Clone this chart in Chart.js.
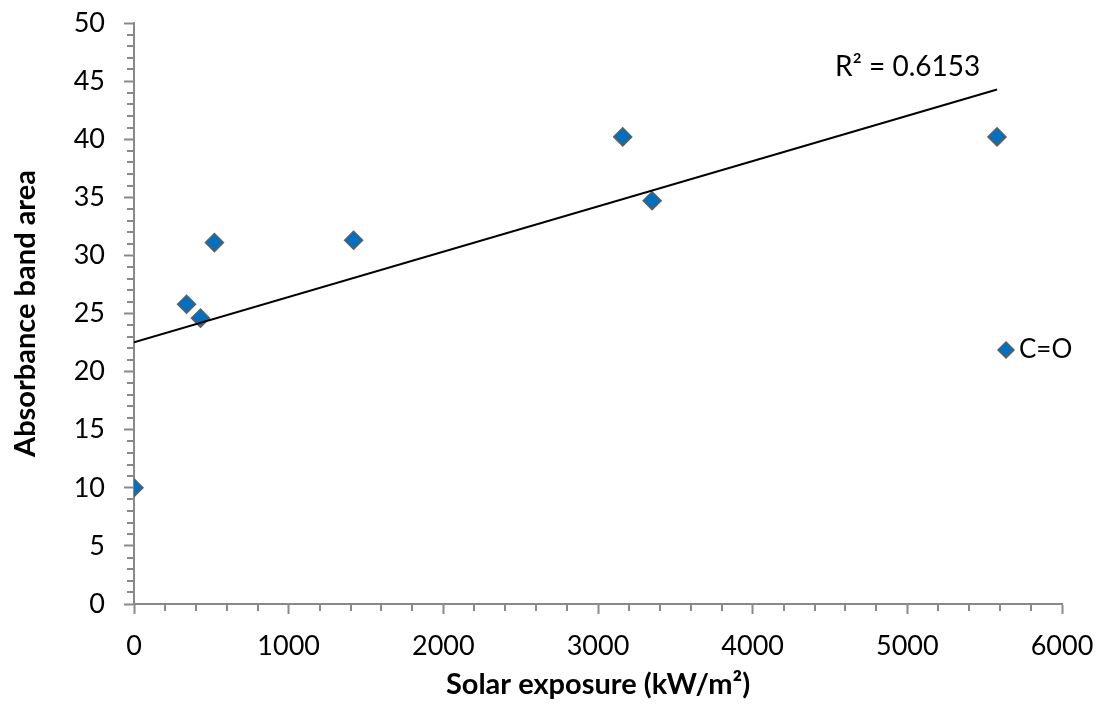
<!DOCTYPE html>
<html>
<head>
<meta charset="utf-8">
<script src="https://cdn.jsdelivr.net/npm/chart.js@4.4.1/dist/chart.umd.min.js"></script>
<style>
  html, body { margin: 0; padding: 0; background: #fff; }
  #wrap { width: 1108px; height: 704px; }
</style>
</head>
<body>
<div id="wrap"><canvas id="scatterChart"></canvas></div>
<script>
// Solar exposure (kW/m2) vs absorbance band area, C=O band
const exposure = [0, 340, 430, 520, 1420, 3160, 3350, 5580];
const bandArea = [10, 25.8, 24.6, 31.1, 31.3, 40.2, 34.7, 40.2];
const seriesName = "C=O";
const r2Label = "R² = 0.6153";

const xTicks = [0, 1000, 2000, 3000, 4000, 5000, 6000];
const yTicks = [0, 5, 10, 15, 20, 25, 30, 35, 40, 45, 50];

const axisGray = "#898989";
const pointBlue = "#0070C0";
const fontFamily = "Lato, 'Noto Sans', sans-serif";

// least squares trend line over the points (like the Excel linear trendline)
function linearFit(xs, ys) {
    const n = xs.length;
    const mx = xs.reduce((s, v) => s + v, 0) / n;
    const my = ys.reduce((s, v) => s + v, 0) / n;
    let sxy = 0, sxx = 0;
    xs.forEach((x, i) => {
        sxy += (x - mx) * (ys[i] - my);
        sxx += (x - mx) * (x - mx);
    });
    const slope = sxy / sxx;
    return { slope, intercept: my - slope * mx };
}

const fit = linearFit(exposure, bandArea);
const xMin = Math.min(...exposure);
const xMax = Math.max(...exposure);
const trendPoints = [xMin, xMax].map(x => ({ x, y: fit.intercept + fit.slope * x }));

const points = exposure.map((x, i) => ({ x, y: bandArea[i] }));

// minor tick marks + R² text + legend
const extrasPlugin = {
    id: "extras",
    afterDraw(chart) {
        const { ctx, scales, chartArea } = chart;
        const xs = scales.x, ys = scales.y;
        ctx.save();
        ctx.strokeStyle = axisGray;
        ctx.lineWidth = 2;
        ctx.beginPath();
        for (let v = 0; v <= 50; v++) {
            if (v % 5 === 0) continue;
            const py = Math.round(ys.getPixelForValue(v));
            ctx.moveTo(chartArea.left - 7, py);
            ctx.lineTo(chartArea.left, py);
        }
        for (let v = 0; v <= 6000; v += 200) {
            if (v % 1000 === 0) continue;
            const px = Math.round(xs.getPixelForValue(v));
            ctx.moveTo(px, chartArea.bottom);
            ctx.lineTo(px, chartArea.bottom + 7);
        }
        ctx.stroke();

        // R² label near the end of the trend line
        ctx.fillStyle = "#000";
        ctx.font = `28px ${fontFamily}`;
        ctx.textAlign = "left";
        ctx.textBaseline = "middle";
        ctx.fillText(r2Label, 835, 67);

        // legend
        const lx = 1006, ly = 350, r = 8;
        ctx.beginPath();
        ctx.moveTo(lx, ly - r);
        ctx.lineTo(lx + r, ly);
        ctx.lineTo(lx, ly + r);
        ctx.lineTo(lx - r, ly);
        ctx.closePath();
        ctx.fillStyle = pointBlue;
        ctx.fill();
        ctx.strokeStyle = "#5f5f5f";
        ctx.lineWidth = 1.5;
        ctx.stroke();
        ctx.fillStyle = "#000";
        ctx.font = `26px ${fontFamily}`;
        ctx.fillText(seriesName, 1019, ly);
        ctx.restore();
    }
};

const ctx = document.getElementById("scatterChart").getContext("2d");
new Chart(ctx, {
    type: "scatter",
    data: {
        datasets: [
            {
                type: "line",
                label: "Linear (" + seriesName + ")",
                data: trendPoints,
                borderColor: "#000",
                borderWidth: 2,
                pointRadius: 0,
                fill: false,
                order: 0
            },
            {
                label: seriesName,
                data: points,
                pointStyle: "rectRot",
                pointRadius: 9,
                pointBackgroundColor: pointBlue,
                pointBorderColor: "#5f5f5f",
                pointBorderWidth: 1.5,
                order: 1
            }
        ]
    },
    options: {
        responsive: true,
        maintainAspectRatio: false,
        animation: false,
        layout: { padding: { top: 23, right: 46, left: 0, bottom: 0 } },
        plugins: {
            legend: { display: false },
            tooltip: { enabled: false }
        },
        scales: {
            x: {
                type: "linear",
                min: 0,
                max: 6000,
                afterBuildTicks: scale => { scale.ticks = xTicks.map(v => ({ value: v })); },
                afterFit: scale => {
                    scale.height = 100;
                    scale.paddingLeft = 0;
                    scale.paddingRight = 0;
                },
                ticks: {
                    color: "#000",
                    font: { family: fontFamily, size: 27 },
                    padding: 16,
                    callback: v => String(v)
                },
                grid: { drawOnChartArea: false, tickLength: 10, tickColor: axisGray, tickWidth: 2 },
                border: { color: axisGray, width: 2 },
                title: {
                    display: true,
                    text: "Solar exposure (kW/m²)",
                    color: "#000",
                    font: { family: fontFamily, size: 29, weight: "bold" },
                    padding: { top: 0, bottom: 2 }
                }
            },
            y: {
                type: "linear",
                min: 0,
                max: 50,
                afterBuildTicks: scale => { scale.ticks = yTicks.map(v => ({ value: v })); },
                afterFit: scale => {
                    scale.width = 134;
                    scale.paddingTop = 0;
                    scale.paddingBottom = 0;
                },
                ticks: {
                    color: "#000",
                    font: { family: fontFamily, size: 27 },
                    padding: 19,
                    callback: v => String(v)
                },
                grid: { drawOnChartArea: false, tickLength: 10, tickColor: axisGray, tickWidth: 2 },
                border: { color: axisGray, width: 2 },
                title: {
                    display: true,
                    text: "Absorbance band area",
                    color: "#000",
                    font: { family: fontFamily, size: 29, weight: "bold" },
                    padding: { top: 8, bottom: 0 }
                }
            }
        }
    },
    plugins: [extrasPlugin]
});
</script>
</body>
</html>
